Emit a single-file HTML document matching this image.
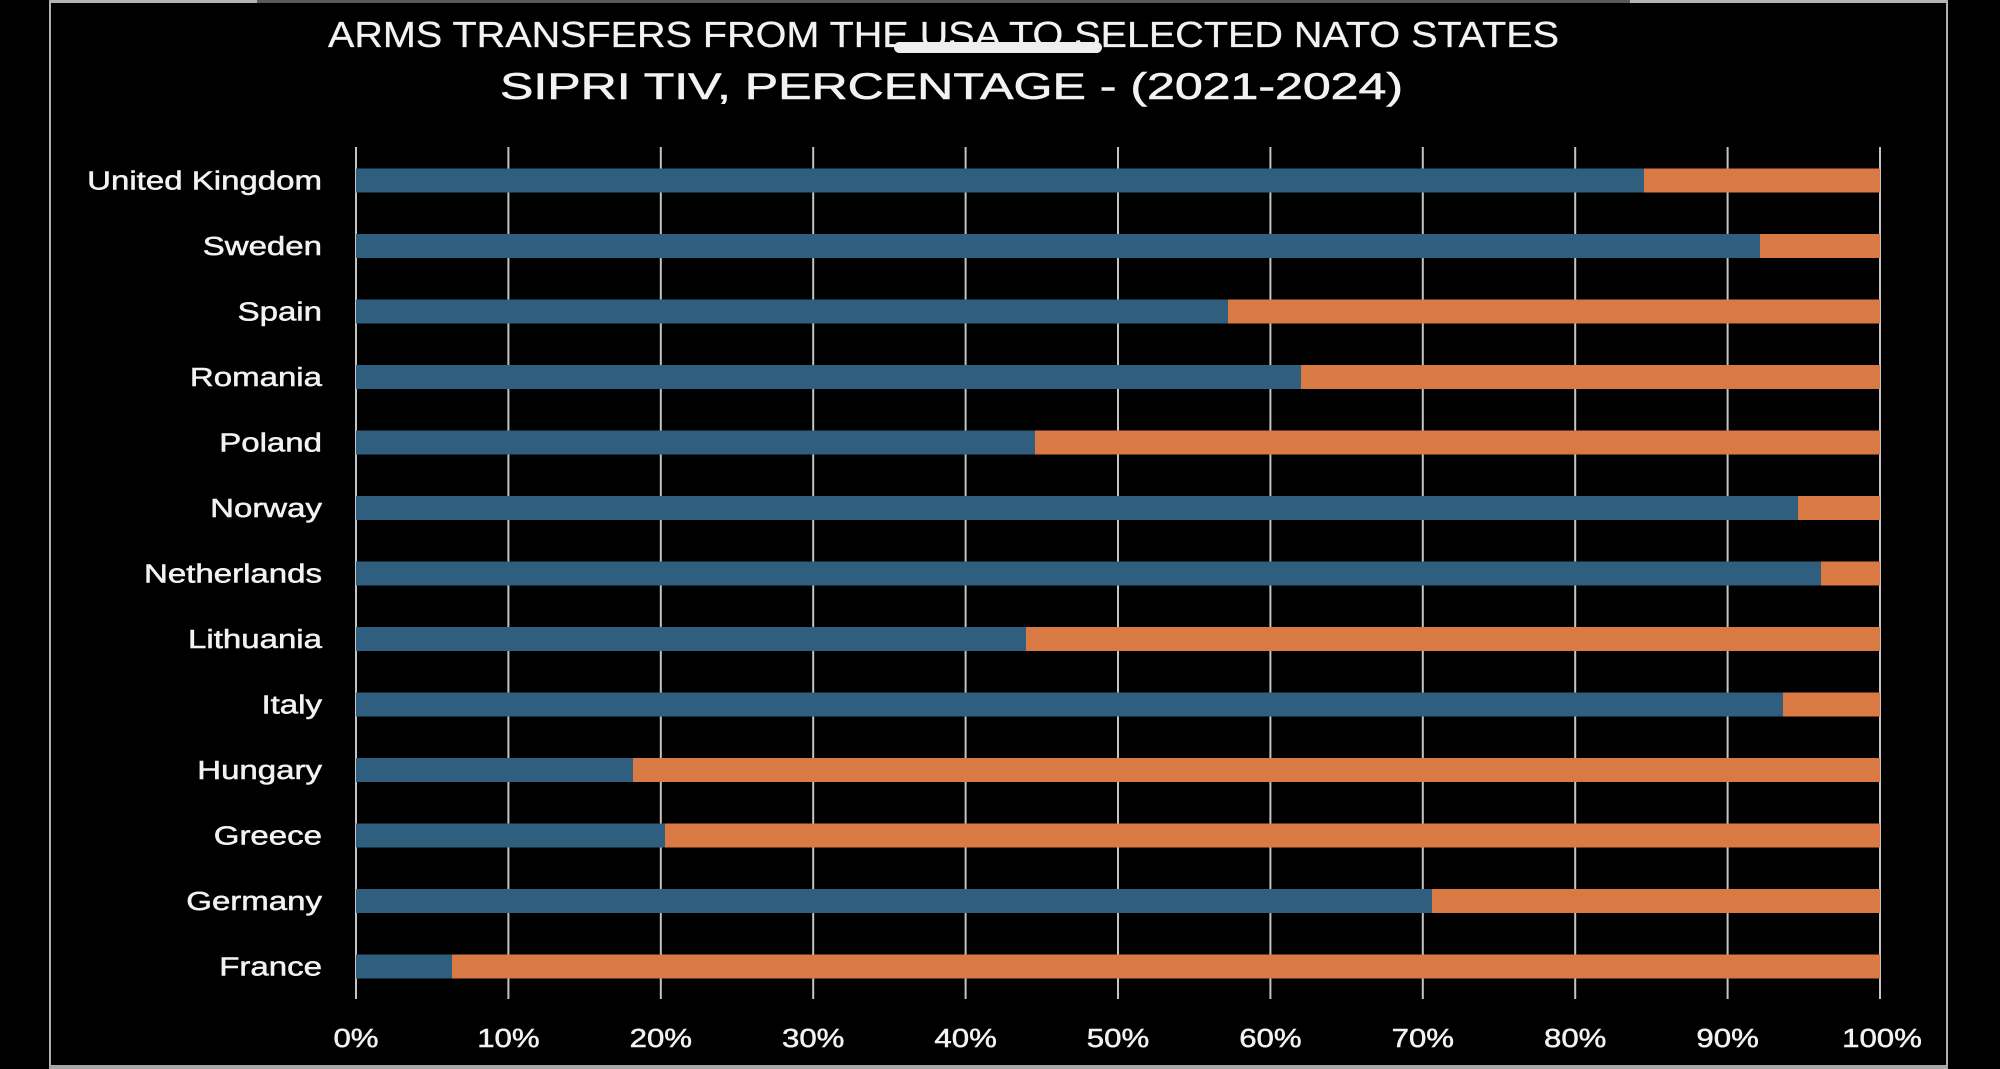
<!DOCTYPE html>
<html>
<head>
<meta charset="utf-8">
<style>
  html,body{margin:0;padding:0;background:#000;}
  body{width:2000px;height:1069px;overflow:hidden;}
  svg{display:block;}
  text{font-family:"Liberation Sans", Arial, sans-serif;fill:#f2f2f2;}
</style>
</head>
<body>
<svg width="2000" height="1069" viewBox="0 0 2000 1069" xmlns="http://www.w3.org/2000/svg">
  <rect x="0" y="0" width="2000" height="1069" fill="#000"/>
  <!-- frame -->
  <rect x="50" y="0" width="207" height="3" fill="#b4b4b4"/>
  <rect x="257" y="0" width="1373" height="3" fill="#5a5a5a"/>
  <rect x="1630" y="0" width="318" height="3" fill="#b4b4b4"/>
  <rect x="49" y="0" width="2" height="1069" fill="#b0b0b0"/>
  <rect x="1946" y="0" width="2" height="1069" fill="#b0b0b0"/>
  <rect x="49" y="1065" width="1899" height="4" fill="#a8a8a8"/>

  <!-- titles -->
  <text x="328" y="47" font-size="36" textLength="1231" lengthAdjust="spacingAndGlyphs" stroke="#f2f2f2" stroke-width="0.3">ARMS TRANSFERS FROM THE USA TO SELECTED NATO STATES</text>
  <text x="500" y="99" font-size="37" textLength="903" lengthAdjust="spacingAndGlyphs" stroke="#f2f2f2" stroke-width="0.6">SIPRI TIV, PERCENTAGE - (2021-2024)</text>
  <rect x="894" y="42" width="208" height="11" rx="5.5" fill="#eeeef0"/>

  <!-- gridlines -->
  <g fill="#c4c4c4">
    <rect x="355" y="147" width="2" height="852"/>
    <rect x="507.4" y="147" width="2" height="852"/>
    <rect x="659.8" y="147" width="2" height="852"/>
    <rect x="812.2" y="147" width="2" height="852"/>
    <rect x="964.6" y="147" width="2" height="852"/>
    <rect x="1117" y="147" width="2" height="852"/>
    <rect x="1269.4" y="147" width="2" height="852"/>
    <rect x="1421.8" y="147" width="2" height="852"/>
    <rect x="1574.2" y="147" width="2" height="852"/>
    <rect x="1726.6" y="147" width="2" height="852"/>
    <rect x="1879" y="147" width="2" height="852"/>
  </g>

  <!-- bars -->
  <g>
    <rect x="356" y="168.5" width="1288" height="24" fill="#2f5e7e"/>
    <rect x="1644" y="168.5" width="236" height="24" fill="#d97a45"/>
    <rect x="356" y="234" width="1404" height="24" fill="#2f5e7e"/>
    <rect x="1760" y="234" width="120" height="24" fill="#d97a45"/>
    <rect x="356" y="299.5" width="872" height="24" fill="#2f5e7e"/>
    <rect x="1228" y="299.5" width="652" height="24" fill="#d97a45"/>
    <rect x="356" y="365" width="945" height="24" fill="#2f5e7e"/>
    <rect x="1301" y="365" width="579" height="24" fill="#d97a45"/>
    <rect x="356" y="430.5" width="679" height="24" fill="#2f5e7e"/>
    <rect x="1035" y="430.5" width="845" height="24" fill="#d97a45"/>
    <rect x="356" y="496" width="1442" height="24" fill="#2f5e7e"/>
    <rect x="1798" y="496" width="82" height="24" fill="#d97a45"/>
    <rect x="356" y="561.5" width="1465" height="24" fill="#2f5e7e"/>
    <rect x="1821" y="561.5" width="59" height="24" fill="#d97a45"/>
    <rect x="356" y="627" width="670" height="24" fill="#2f5e7e"/>
    <rect x="1026" y="627" width="854" height="24" fill="#d97a45"/>
    <rect x="356" y="692.5" width="1427" height="24" fill="#2f5e7e"/>
    <rect x="1783" y="692.5" width="97" height="24" fill="#d97a45"/>
    <rect x="356" y="758" width="277" height="24" fill="#2f5e7e"/>
    <rect x="633" y="758" width="1247" height="24" fill="#d97a45"/>
    <rect x="356" y="823.5" width="309" height="24" fill="#2f5e7e"/>
    <rect x="665" y="823.5" width="1215" height="24" fill="#d97a45"/>
    <rect x="356" y="889" width="1076" height="24" fill="#2f5e7e"/>
    <rect x="1432" y="889" width="448" height="24" fill="#d97a45"/>
    <rect x="356" y="954.5" width="96" height="24" fill="#2f5e7e"/>
    <rect x="452" y="954.5" width="1428" height="24" fill="#d97a45"/>
  </g>

  <!-- category labels -->
  <g font-size="26" text-anchor="end" stroke="#f2f2f2" stroke-width="0.5">
    <text transform="translate(322,189.5) scale(1.27,1)">United Kingdom</text>
    <text transform="translate(322,255) scale(1.27,1)">Sweden</text>
    <text transform="translate(322,320.5) scale(1.27,1)">Spain</text>
    <text transform="translate(322,386) scale(1.27,1)">Romania</text>
    <text transform="translate(322,451.5) scale(1.27,1)">Poland</text>
    <text transform="translate(322,517) scale(1.27,1)">Norway</text>
    <text transform="translate(322,582.5) scale(1.27,1)">Netherlands</text>
    <text transform="translate(322,648) scale(1.27,1)">Lithuania</text>
    <text transform="translate(322,713.5) scale(1.27,1)">Italy</text>
    <text transform="translate(322,779) scale(1.27,1)">Hungary</text>
    <text transform="translate(322,844.5) scale(1.27,1)">Greece</text>
    <text transform="translate(322,910) scale(1.27,1)">Germany</text>
    <text transform="translate(322,975.5) scale(1.27,1)">France</text>
  </g>

  <!-- x tick labels -->
  <g font-size="26" text-anchor="middle" stroke="#f2f2f2" stroke-width="0.5">
    <text transform="translate(356,1047) scale(1.2,1)">0%</text>
    <text transform="translate(508.4,1047) scale(1.2,1)">10%</text>
    <text transform="translate(660.8,1047) scale(1.2,1)">20%</text>
    <text transform="translate(813.2,1047) scale(1.2,1)">30%</text>
    <text transform="translate(965.6,1047) scale(1.2,1)">40%</text>
    <text transform="translate(1118,1047) scale(1.2,1)">50%</text>
    <text transform="translate(1270.4,1047) scale(1.2,1)">60%</text>
    <text transform="translate(1422.8,1047) scale(1.2,1)">70%</text>
    <text transform="translate(1575.2,1047) scale(1.2,1)">80%</text>
    <text transform="translate(1727.6,1047) scale(1.2,1)">90%</text>
    <text transform="translate(1882,1047) scale(1.2,1)">100%</text>
  </g>
</svg>
</body>
</html>
